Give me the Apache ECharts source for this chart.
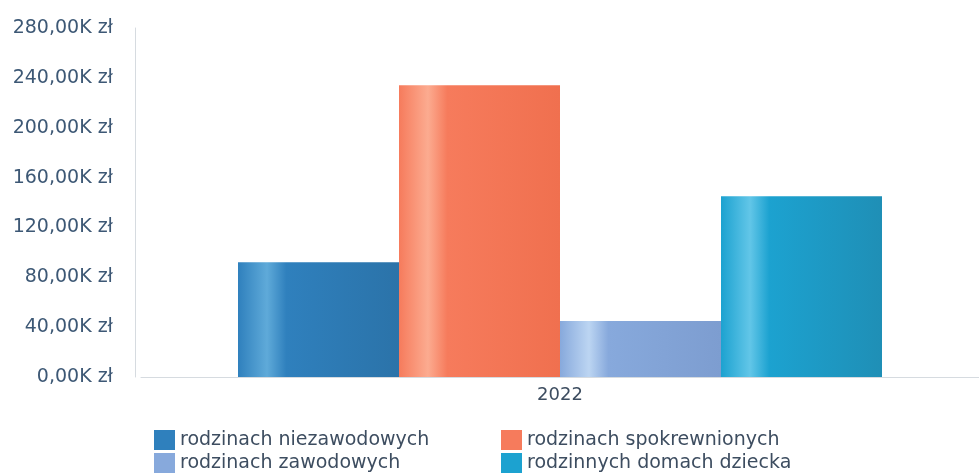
<!DOCTYPE html>
<html>
<head>
<meta charset="utf-8">
<script src="https://cdn.jsdelivr.net/npm/echarts@6/dist/echarts.min.js"></script>
<style>
html,body{margin:0;padding:0;background:#fff;}
#chart{width:979px;height:475px;}
</style>
</head>
<body>
<div id="chart"></div>
<script>
var categories = ['2022'];
var seriesNames = ['rodzinach niezawodowych', 'rodzinach spokrewnionych', 'rodzinach zawodowych', 'rodzinnych domach dziecka'];
var niezawodowe = [92];
var spokrewnione = [234];
var zawodowe = [45];
var domyDziecka = [145];
var yTickLabels = ['0,00K zł', '40,00K zł', '80,00K zł', '120,00K zł', '160,00K zł', '200,00K zł', '240,00K zł', '280,00K zł'];

function grad(light, base, dark) {
  return new echarts.graphic.LinearGradient(0, 0, 1, 0, [
    {offset: 0, color: base},
    {offset: 0.18, color: light},
    {offset: 0.3, color: base},
    {offset: 1, color: dark}
  ]);
}
var colors = [
  grad('#5faad9', '#2f80bd', '#2b73a9'),
  grad('#fcab90', '#f67b5c', '#f0704f'),
  grad('#bcd5f2', '#87a9dc', '#7d9dd0'),
  grad('#62c6e8', '#1ca2d0', '#1f8fb6')
];
var legendColors = ['#2f80bd', '#f67b5c', '#87a9dc', '#1ca2d0'];
var values = [niezawodowe, spokrewnione, zawodowe, domyDziecka];

var chart = echarts.init(document.getElementById('chart'));
var series = seriesNames.map(function (n, i) {
  return {
    name: n,
    type: 'bar',
    data: values[i],
    barWidth: 161,
    barGap: '0%',
    itemStyle: {color: colors[i]}
  };
});
var fam = 'DejaVu Sans';
var legendText = {fontFamily: fam, fontSize: 19, color: '#3d4d60'};
function legendBlock(a, b, left) {
  return {
    data: [{name: seriesNames[a], itemStyle: {color: legendColors[a]}}, {name: seriesNames[b], itemStyle: {color: legendColors[b]}}],
    orient: 'vertical', left: left, top: 430, height: 60, padding: 0,
    itemGap: 3, itemWidth: 21, itemHeight: 20, icon: 'rect', textStyle: legendText
  };
}
chart.setOption({
  animation: false,
  color: legendColors,
  grid: {left: 141, top: 28, right: 0, bottom: 98},
  legend: [legendBlock(0, 2, 154), legendBlock(1, 3, 501)],
  xAxis: {
    type: 'category',
    data: categories,
    axisLine: {lineStyle: {color: '#d6dbe0'}},
    axisTick: {show: false},
    axisLabel: {fontFamily: fam, fontSize: 18, color: '#3d4d60', margin: 9}
  },
  yAxis: {
    type: 'value',
    min: 0, max: 280, interval: 40,
    offset: 6,
    axisLine: {show: true, lineStyle: {color: '#d6dbe0'}},
    axisTick: {show: false},
    splitLine: {show: false},
    axisLabel: {
      fontFamily: fam, fontSize: 19, color: '#3d5875', margin: 22,
      formatter: function (v) { return yTickLabels[Math.round(v / 40)]; }
    }
  },
  series: series
});
</script>
</body>
</html>
